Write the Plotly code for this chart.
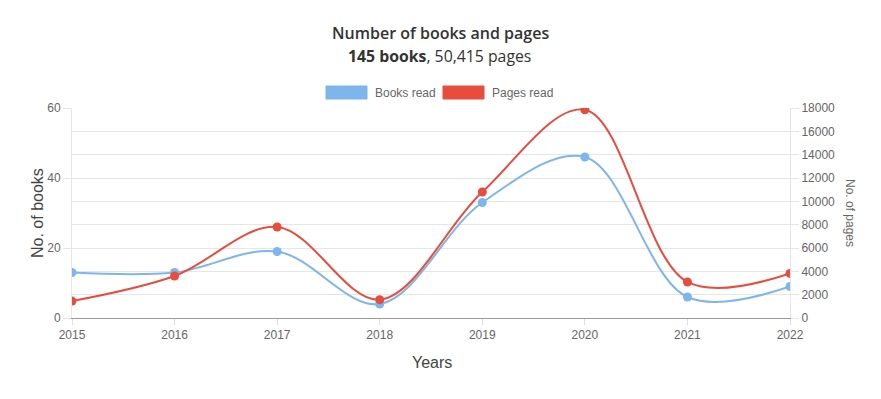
import plotly.graph_objects as go

years = [2015, 2016, 2017, 2018, 2019, 2020, 2021, 2022]
books_read = [13, 13, 19, 4, 33, 46, 6, 9]
pages_read = [1450, 3600, 7800, 1570, 10800, 17850, 3090, 3820]
book_ticks = [0, 20, 40, 60]
page_ticks = list(range(0, 18001, 2000))

BLUE = "#7db5ec"
RED = "#e74c3c"
AX_FONT = "Liberation Sans, Arial, sans-serif"
TITLE_FONT = "Open Sans, Noto Sans, sans-serif"

fig = go.Figure()
fig.add_trace(go.Scatter(
    x=years, y=books_read, name="Books read", mode="lines+markers",
    line=dict(color=BLUE, width=2, shape="spline", smoothing=1.0),
    marker=dict(color=BLUE, size=9), yaxis="y", showlegend=False))
fig.add_trace(go.Scatter(
    x=years, y=pages_read, name="Pages read", mode="lines+markers",
    line=dict(color=RED, width=2, shape="spline", smoothing=1.0),
    marker=dict(color=RED, size=9), yaxis="y2", showlegend=False))

L, R, T, B = 72, 91, 108, 81
W, H = 881, 399
pw, ph = W - L - R, H - T - B


def px(x):
    return (x - L) / pw


def py(y):
    return (H - B - y) / ph


fig.update_layout(
    width=W, height=H,
    margin=dict(l=L, r=R, t=T, b=B),
    paper_bgcolor="white", plot_bgcolor="white",
    font=dict(family=AX_FONT, color="#666", size=12),
    xaxis=dict(
        range=[years[0], years[-1]], tickvals=years, ticktext=[str(y) for y in years],
        showgrid=False, zeroline=False,
        showline=True, linecolor="#9a9a9a", linewidth=1,
        ticks="outside", ticklen=6, tickcolor="#e0e0e0",
        tickfont=dict(size=12, color="#666"),
    ),
    yaxis=dict(
        range=[0, 60], tickvals=book_ticks, showgrid=False, zeroline=False,
        showline=True, linecolor="#e6e6e6", linewidth=1,
        ticks="outside", ticklen=8, tickcolor="#e6e6e6",
        tickfont=dict(size=12, color="#666"),
    ),
    yaxis2=dict(
        range=[0, 18000], tickvals=page_ticks, tickformat="d", overlaying="y", side="right",
        showgrid=True, gridcolor="#e6e6e6", zeroline=False,
        showline=True, linecolor="#e6e6e6", linewidth=1,
        ticks="outside", ticklen=8, tickcolor="#e6e6e6",
        tickfont=dict(size=12, color="#666"),
    ),
    showlegend=False,
)


def ann(text, x, y, font, angle=0, xanchor="center"):
    return dict(text=text, x=px(x), y=py(y), xref="paper", yref="paper",
                xanchor=xanchor, yanchor="middle", showarrow=False,
                textangle=angle, font=font)


annotations = [
    ann("Number of books and pages", 440, 33,
        dict(family=TITLE_FONT, size=16, color="#333", weight=600)),
    ann("<b>145 books</b>, 50,415 pages", 439, 56,
        dict(family=TITLE_FONT, size=15.8, color="#333")),
    ann("No. of books", 37, 213, dict(family=AX_FONT, size=16, color="#444"), angle=-90),
    ann("Years", 432, 362, dict(family=AX_FONT, size=16, color="#444")),
    ann("No. of pages", 850, 213, dict(family=AX_FONT, size=12, color="#666"), angle=90),
    ann("Books read", 373, 92.5, dict(family=AX_FONT, size=12, color="#666"), xanchor="left"),
    ann("Pages read", 490, 92.5, dict(family=AX_FONT, size=12, color="#666"), xanchor="left"),
]
fig.update_layout(annotations=annotations)

shapes = [
    dict(type="rect", xref="paper", yref="paper", x0=px(326), x1=px(367), y0=py(99), y1=py(86),
         fillcolor=BLUE, line=dict(color=BLUE, width=1)),
    dict(type="rect", xref="paper", yref="paper", x0=px(443), x1=px(484), y0=py(99), y1=py(86),
         fillcolor=RED, line=dict(color=RED, width=1)),
]
fig.update_layout(shapes=shapes)

fig.write_html("out.html", config={"displayModeBar": False},
               post_script="document.body.style.margin='0';")
